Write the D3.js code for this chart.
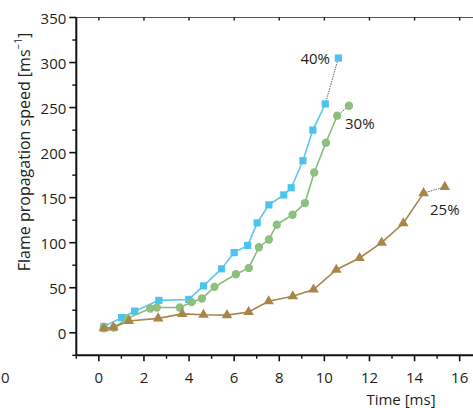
<!DOCTYPE html>
<html lang="en">
<head>
<meta charset="utf-8">
<script src="https://d3js.org/d3.v7.min.js"></script>
<style>
  body { margin: 0; background: #fff; }
  svg { display: block; font-family: "Open Sans", sans-serif; }
</style>
</head>
<body>
<script>
const width = 473;
const height = 408;

// 40% series (squares)
const x40 = [0.22, 1.01, 1.59, 2.66, 3.99, 4.64, 5.44, 6.00, 6.6, 7.02, 7.54, 8.2, 8.53, 9.05, 9.49, 10.04, 10.62];
const y40 = [6.8, 16.8, 24, 36, 37, 52, 71, 89, 97, 122, 142, 153, 161, 191, 225, 254, 305];
// 30% series (circles)
const x30 = [0.22, 0.67, 1.26, 2.28, 2.57, 3.59, 4.11, 4.57, 5.13, 6.08, 6.65, 7.1, 7.54, 7.89, 8.59, 9.14, 9.55, 10.07, 10.57, 11.09];
const y30 = [5, 5.7, 16, 27, 28, 28, 34, 38, 51, 65, 72, 95, 103.5, 120, 131, 144, 178, 211, 241, 252];
// 25% series (triangles)
const x25 = [0.22, 0.64, 1.33, 2.63, 3.7, 4.64, 5.68, 6.64, 7.53, 8.6, 9.52, 10.53, 11.56, 12.54, 13.5, 14.4, 15.34];
const y25 = [5, 6, 13, 16, 21, 20, 19.6, 23, 35, 40.6, 48, 70, 83, 100, 121.6, 155, 162];

const xTicks = [0, 2, 4, 6, 8, 10, 12, 14, 16];
const yTicks = [0, 50, 100, 150, 200, 250, 300, 350];

const series = [
  {name: "40%", xs: x40, ys: y40, color: "#4dc4f0", line: "#5cc6ee", shape: d3.symbolSquare, size: 52, lx: 330, ly: 58, anchor: "end"},
  {name: "30%", xs: x30, ys: y30, color: "#8dbf7f", line: "#86bd78", shape: d3.symbolCircle, size: 55, lx: 345, ly: 123, anchor: "start"},
  {name: "25%", xs: x25, ys: y25, color: "#a8864a", line: "#a8864a", shape: d3.symbolTriangle, size: 48, lx: 430, ly: 209, anchor: "start"}
];

const x = d3.scaleLinear().domain([-1, 16.6]).range([76.3, 473.2]);
const y = d3.scaleLinear().domain([-25, 350]).range([355.3, 17.5]);

const svg = d3.select("body").append("svg")
  .attr("width", width).attr("height", height);

// top frame line
svg.append("line")
  .attr("x1", x(-1)).attr("x2", width)
  .attr("y1", y(350)).attr("y2", y(350))
  .attr("stroke", "#555").attr("stroke-width", 1.2);
svg.selectAll(".ttick").data(xTicks).enter().append("line")
  .attr("x1", d => x(d)).attr("x2", d => x(d))
  .attr("y1", y(350)).attr("y2", y(350) + 3)
  .attr("stroke", "#222").attr("stroke-width", 1.5);

// series
series.forEach(s => {
  const pts = s.xs.map((v, i) => [v, s.ys[i]]);
  const main = pts.slice(0, -1);
  const last = pts.slice(-2);
  svg.append("path")
    .attr("d", d3.line().x(d => x(d[0])).y(d => y(d[1]))(main))
    .attr("fill", "none").attr("stroke", s.line).attr("stroke-width", 1.6);
  svg.append("path")
    .attr("d", d3.line().x(d => x(d[0])).y(d => y(d[1]))(last))
    .attr("fill", "none").attr("stroke", "#444").attr("stroke-width", 0.8)
    .attr("stroke-dasharray", "1.5,1");
  svg.selectAll(null).data(pts).enter().append("path")
    .attr("d", d3.symbol().type(s.shape).size(s.size))
    .attr("transform", d => `translate(${x(d[0])},${y(d[1])})`)
    .attr("fill", s.color);
  svg.append("text")
    .attr("x", s.lx).attr("y", s.ly)
    .attr("text-anchor", s.anchor).attr("dominant-baseline", "central")
    .attr("font-size", 15).attr("fill", "#231f20")
    .text(s.name);
});

// x axis
const xAxis = svg.append("g").attr("transform", `translate(0,${y(-25)})`);
xAxis.append("line").attr("x1", x(-1)).attr("x2", width)
  .attr("stroke", "#111").attr("stroke-width", 2);
xAxis.selectAll(".mj").data(xTicks).enter().append("line")
  .attr("x1", d => x(d)).attr("x2", d => x(d)).attr("y1", 0).attr("y2", 6)
  .attr("stroke", "#111").attr("stroke-width", 1.6);
xAxis.selectAll(".mn").data(d3.range(-1, 17, 2)).enter().append("line")
  .attr("x1", d => x(d)).attr("x2", d => x(d)).attr("y1", 0).attr("y2", 3.5)
  .attr("stroke", "#111").attr("stroke-width", 1.4);
xAxis.selectAll(".lb").data(xTicks).enter().append("text")
  .attr("x", d => x(d)).attr("y", 22)
  .attr("text-anchor", "middle").attr("dominant-baseline", "central")
  .attr("font-size", 15).attr("fill", "#231f20")
  .text(d => d);
// stray label at the far left edge
svg.append("text").attr("x", 1).attr("y", y(-25) + 22)
  .attr("text-anchor", "start").attr("dominant-baseline", "central")
  .attr("font-size", 15).attr("fill", "#231f20").text("0");

// y axis
const yAxis = svg.append("g").attr("transform", `translate(${x(-1)},0)`);
yAxis.append("line").attr("y1", y(-25)).attr("y2", y(350))
  .attr("stroke", "#111").attr("stroke-width", 2);
yAxis.selectAll(".mj").data(yTicks).enter().append("line")
  .attr("x1", 0).attr("x2", -7).attr("y1", d => y(d)).attr("y2", d => y(d))
  .attr("stroke", "#111").attr("stroke-width", 1.6);
yAxis.selectAll(".mn").data(d3.range(-25, 350, 50)).enter().append("line")
  .attr("x1", 0).attr("x2", -4).attr("y1", d => y(d)).attr("y2", d => y(d))
  .attr("stroke", "#111").attr("stroke-width", 1.4);
yAxis.selectAll(".lb").data(yTicks).enter().append("text")
  .attr("x", -10).attr("y", d => y(d))
  .attr("text-anchor", "end").attr("dominant-baseline", "central")
  .attr("font-size", 15).attr("fill", "#231f20")
  .text(d => d);

// axis titles
svg.append("text")
  .attr("x", 401).attr("y", 399)
  .attr("text-anchor", "middle").attr("dominant-baseline", "central")
  .attr("font-size", 15).attr("fill", "#231f20")
  .text("Time [ms]");

const yt = svg.append("text")
  .attr("transform", "translate(24,152) rotate(-90)")
  .attr("text-anchor", "middle").attr("dominant-baseline", "central")
  .attr("font-size", 16).attr("fill", "#231f20");
yt.append("tspan").text("Flame propagation speed [ms");
yt.append("tspan").attr("font-size", 10).attr("dy", -6).text("−1");
yt.append("tspan").attr("dy", 6).text("]");
</script>
</body>
</html>
